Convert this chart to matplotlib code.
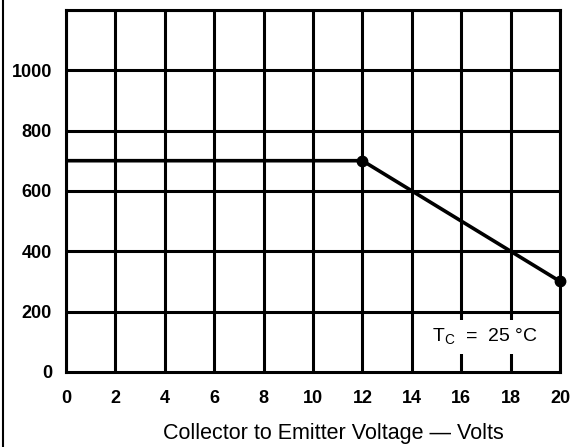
import matplotlib
matplotlib.use("Agg")
import matplotlib.pyplot as plt
from matplotlib.lines import Line2D

plt.rcParams['font.family'] = ['Liberation Sans', 'DejaVu Sans']

# curve data
vce = [0, 12, 20]
ic = [700, 700, 300]
# marked points
mark_v = [12, 20]
mark_i = [700, 300]

xticks = list(range(0, 21, 2))
yticks = [0, 200, 400, 600, 800, 1000]
ygrid = [200, 400, 600, 800, 1000, 1200]

fig = plt.figure(figsize=(5.7, 4.47), dpi=100)
ax = fig.add_axes([0.1158, 0.168, 0.8667, 0.810])

ax.set_xlim(0, 20)
ax.set_ylim(0, 1200)
for x in xticks:
    ax.axvline(x, color='black', lw=2.2, zorder=1)
for y in ygrid:
    ax.axhline(y, color='black', lw=2.2, zorder=1)

ax.plot(vce, ic, color='black', lw=2.6, zorder=3)
ax.plot(mark_v, mark_i, 'o', color='black', ms=7.5, zorder=4, clip_on=False)

ax.set_xticks(xticks)
ax.set_yticks(yticks)
ax.tick_params(length=0, labelsize=13)
ax.tick_params(axis='x', pad=13)
ax.tick_params(axis='y', pad=10)
for lab in ax.get_xticklabels() + ax.get_yticklabels():
    lab.set_fontweight('bold')
for s in ax.spines.values():
    s.set_linewidth(2.2)

ax.set_xlabel("Collector to Emitter Voltage \u2014 Volts", fontsize=15.5)
ax.xaxis.set_label_coords(0.542, -0.14)

ax.text(16.95, 115, "T$_\\mathregular{C}$  =  25 \u00b0C", fontsize=14, ha='center', va='center',
        zorder=5, bbox=dict(facecolor='white', edgecolor='none', pad=5))

fig.add_artist(Line2D([0.005, 0.005], [0, 1], color='black', lw=1.5, transform=fig.transFigure))

fig.savefig("out.png", dpi=100)
